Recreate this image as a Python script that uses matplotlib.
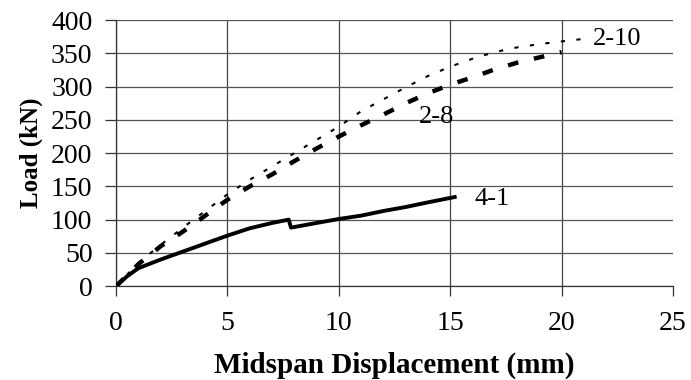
import matplotlib
matplotlib.use("Agg")
import matplotlib.pyplot as plt

# values
disp_4_1 = [0, 0.5, 1.0, 2, 3, 4, 5, 6, 7, 7.75, 7.85, 9, 10, 11, 12, 13, 14, 15.2]
load_4_1 = [0, 15, 27, 40, 52, 64, 76, 87, 95, 100, 88, 95, 101, 106, 113, 119, 126, 134]

disp_2_8 = [0, 1, 2, 3, 4, 5, 6, 7, 8, 9, 10, 11, 12, 13, 14, 15, 16, 17, 18, 19, 20]
load_2_8 = [0, 33, 60, 82, 106, 130, 150, 168, 188, 207, 225, 242, 258, 275, 290, 303, 314, 326, 336, 344, 352]

disp_2_10 = [0, 1, 2, 3, 4, 5, 6, 7, 8, 9, 10, 11, 12, 13, 14, 15, 16, 17, 18, 19, 20, 21.3]
load_2_10 = [0, 35, 62, 88, 113, 138, 160, 180, 200, 220, 240, 263, 281, 299, 316, 330, 342, 352, 359, 364, 368, 373]

x_ticks = [0, 5, 10, 15, 20, 25]
y_ticks = [0, 50, 100, 150, 200, 250, 300, 350, 400]

plt.rcParams['font.family'] = ['Liberation Serif', 'DejaVu Serif']

fig = plt.figure(figsize=(6.91, 3.80), dpi=100)
ax = fig.add_axes([0.168, 0.247, 0.806, 0.700])

# grid first so the curves sit on top
for xv in x_ticks[:-1]:
    ax.axvline(xv, color='#444444', lw=0.9, zorder=1)
for yv in y_ticks:
    ax.axhline(yv, color='#555555', lw=0.9, zorder=1)

ax.plot(disp_2_10, load_2_10, color='black', lw=1.5, dashes=(2.0, 5.5), zorder=3)
ax.plot(disp_2_8, load_2_8, color='black', lw=3.2, dashes=(2.4, 3.6), zorder=3)
ax.plot(disp_4_1, load_4_1, color='black', lw=2.8, zorder=4)

ax.text(21.4, 372, '2-10', fontsize=19, va='center', ha='left')
ax.text(13.6, 254, '2-8', fontsize=19, va='center', ha='left')
ax.text(16.1, 131, '4-1', fontsize=19, va='center', ha='left')

ax.set_xlim(0, 25)
ax.set_ylim(0, 400)
ax.set_xticks(x_ticks)
ax.set_yticks(y_ticks)
ax.tick_params(axis='both', labelsize=20, width=0.9, color='#333333', direction='out')
ax.tick_params(axis='x', length=7, pad=11)
ax.tick_params(axis='y', length=8, pad=9)

for side in ['top', 'right']:
    ax.spines[side].set_visible(False)
for side in ['left', 'bottom']:
    ax.spines[side].set_color('#333333')
    ax.spines[side].set_linewidth(0.9)

ax.set_xlabel('Midspan Displacement (mm)', fontsize=21, fontweight='bold', labelpad=11)
ax.set_ylabel('Load (kN)', fontsize=18, fontweight='bold', labelpad=6)

fig.savefig('out.png', dpi=100)
